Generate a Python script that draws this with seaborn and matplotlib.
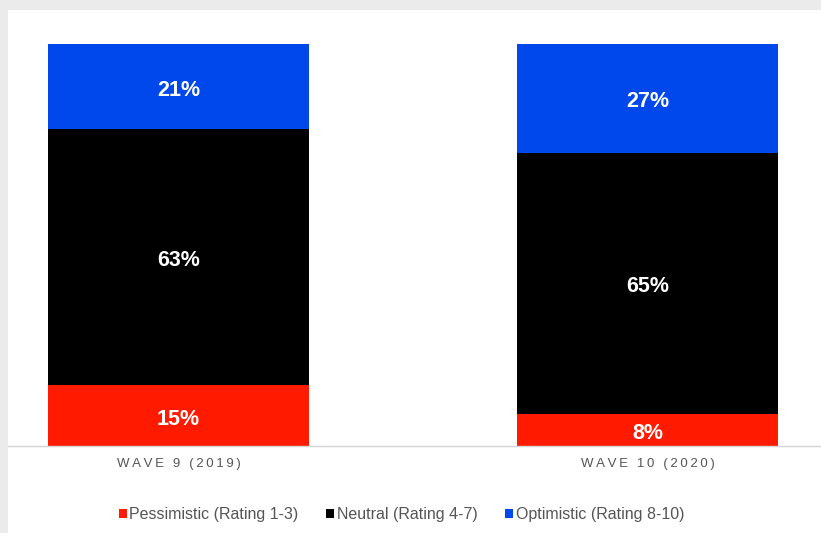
import matplotlib
matplotlib.use("Agg")
import matplotlib.pyplot as plt
from matplotlib.patches import Rectangle, Patch
import numpy as np
import pandas as pd
import seaborn as sns

# Survey outlook by wave (percent of respondents)
waves = ["WAVE 9 (2019)", "WAVE 10 (2020)"]
pessimistic = [15, 8]
neutral = [63, 65]
optimistic = [21, 27]
series_names = ["Pessimistic (Rating 1-3)", "Neutral (Rating 4-7)", "Optimistic (Rating 8-10)"]

RED = "#FF1A00"
BLACK = "#000000"
BLUE = "#0047EC"

sns.set_theme(style="white")
plt.rcParams["font.family"] = ["Liberation Sans", "DejaVu Sans"]

df = pd.DataFrame({"wave": waves, "pess": pessimistic, "neut": neutral, "opt": optimistic})
total = df[["pess", "neut", "opt"]].sum(axis=1)
# 100% stacked: each column normalised to its own total
df["pess_share"] = df["pess"] / total
df["neut_share"] = df["neut"] / total
df["opt_share"] = df["opt"] / total
df["top_pess"] = df["pess_share"]
df["top_neut"] = df["pess_share"] + df["neut_share"]
df["top_opt"] = df["top_neut"] + df["opt_share"]

W, H = 821, 533
fig = plt.figure(figsize=(W / 100, H / 100), dpi=100)
fig.patch.set_facecolor("#EBEBEB")
fig.patches.append(Rectangle((8 / W, 0), 1 - 8 / W, (H - 10) / H,
                             transform=fig.transFigure, facecolor="white",
                             edgecolor="none", zorder=-5))

ax = fig.add_axes([8 / W, (H - 446) / H, 1 - 8 / W, (446 - 44) / H])
ax.set_facecolor("none")

bar_w = 0.557
for col, color in [("top_opt", BLUE), ("top_neut", BLACK), ("top_pess", RED)]:
    sns.barplot(data=df, x="wave", y=col, color=color, saturation=1,
                width=bar_w, linewidth=0, ax=ax, order=waves)

# value labels centred in each segment
for i in range(len(waves)):
    segs = [(0, df["pess_share"][i], df["pess"][i]),
            (df["top_pess"][i], df["neut_share"][i], df["neut"][i]),
            (df["top_neut"][i], df["opt_share"][i], df["opt"][i])]
    for base, h, v in segs:
        ax.annotate(f"{v}%", (i, base + h / 2), xytext=(0, -2.5),
                    textcoords="offset points", ha="center", va="center",
                    color="white", fontsize=15.5, fontweight="bold")

ax.set_xlim((8 - 178.5) / 469, (821 - 178.5) / 469)
ax.set_ylim(0, 1)
ax.set_xlabel("")
ax.set_ylabel("")
ax.set_yticks([])
ax.set_xticks(range(len(waves)))
ax.set_xticklabels(["\u2009".join(w) for w in waves], color="#555555",
                   fontsize=9.5)
ax.tick_params(axis="x", length=0, pad=9)
for s in ["top", "left", "right"]:
    ax.spines[s].set_visible(False)
ax.spines["bottom"].set_color("#D4D4D4")
ax.spines["bottom"].set_linewidth(1)

handles = [Patch(facecolor=c, edgecolor="none", label=n)
           for c, n in zip([RED, BLACK, BLUE], series_names)]
fig.legend(handles=handles, loc="center", bbox_to_anchor=(401.5 / W, (H - 515) / H),
           ncol=3, frameon=False, fontsize=11.5, handlelength=0.5, handleheight=0.5,
           handletextpad=0.15, columnspacing=1.75, labelcolor="#555555")

fig.savefig("out.png", dpi=100, facecolor=fig.get_facecolor())
